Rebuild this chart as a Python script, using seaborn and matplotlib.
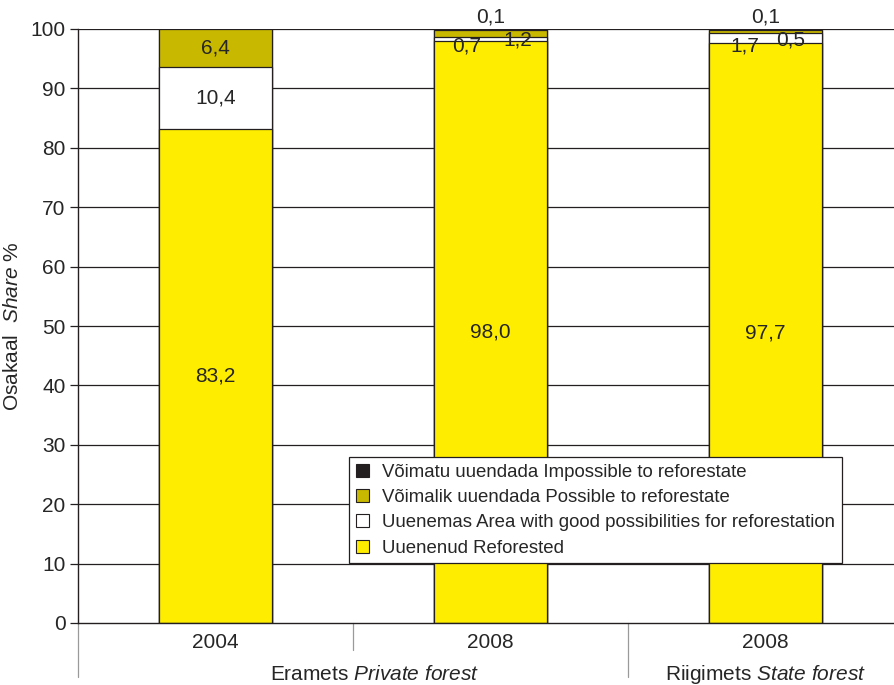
import numpy as np
import pandas as pd
import seaborn as sns
import matplotlib.pyplot as plt
from matplotlib.patches import Patch
from matplotlib.lines import Line2D

# === Data ===
groups = ["2004", "2008", "2008 "]
reforested = [83.2, 98.0, 97.7]
good_possib = [10.4, 0.7, 1.7]
possible = [6.4, 1.2, 0.5]
impossible = [0.0, 0.1, 0.1]

series_names = [
    "Uuenenud Reforested",
    "Uuenemas Area with good possibilities for reforestation",
    "Võimalik uuendada Possible to reforestate",
    "Võimatu uuendada Impossible to reforestate",
]
series_values = [reforested, good_possib, possible, impossible]
colors = ["#FFED00", "#FFFFFF", "#C9B800", "#231F20"]

# === Style ===
sns.set_theme(style="white")
plt.rcParams["font.family"] = ["Liberation Sans", "DejaVu Sans"]
plt.rcParams["mathtext.fontset"] = "custom"
plt.rcParams["mathtext.rm"] = "Liberation Sans"
plt.rcParams["mathtext.it"] = "Liberation Sans:italic"

fig = plt.figure(figsize=(8.95, 6.85), dpi=100)
ax = fig.add_axes([78 / 895, 1 - 623 / 685, 825 / 895, 594 / 685])

# gridlines
for v in range(10, 101, 10):
    ax.axhline(v, color="#231F20", lw=0.9, zorder=0)

# === Stacked bars (cumulative, drawn from top down) ===
cum = np.zeros(len(groups))
cums = []
for vals in series_values:
    cum = cum + np.array(vals)
    cums.append(cum.copy())

for name, c, col in reversed(list(zip(series_names, cums, colors))):
    d = pd.DataFrame({"group": groups, "value": c})
    sns.barplot(data=d, x="group", y="value", color=col, width=0.41,
                edgecolor="#231F20", linewidth=0.9, saturation=1, ax=ax,
                zorder=2)

ax.set_xlim(-0.5, 2.5)
ax.set_ylim(0, 100)
ax.set_yticks(range(0, 101, 10))
ax.tick_params(axis="y", which="both", left=True, length=6, width=0.9,
               color="#231F20", labelsize=15, pad=3)
ax.set_xticks([])
ax.set_xlabel("")
ax.set_ylabel("Osakaal  $\\it{Share}$ %", fontsize=15)
ax.yaxis.set_label_coords(-56 / 825, 0.5)
for s in ["top", "right"]:
    ax.spines[s].set_visible(False)
ax.spines["left"].set_color("#231F20")
ax.spines["left"].set_linewidth(1.0)
ax.spines["bottom"].set_color("#231F20")
ax.spines["bottom"].set_linewidth(1.0)

# === Value labels ===
def fmt(v):
    return f"{v:.1f}".replace(".", ",")

fs = 15
for i in range(3):
    ax.text(i, reforested[i] / 2, fmt(reforested[i]), ha="center", va="center", fontsize=fs)
# 2004: segments large enough for centred labels
ax.text(0, reforested[0] + good_possib[0] / 2, fmt(good_possib[0]), ha="center", va="center", fontsize=fs)
ax.text(0, reforested[0] + good_possib[0] + possible[0] / 2, fmt(possible[0]), ha="center", va="center", fontsize=fs)
# 2008 bars: small segments labelled beside each other
for i, (dl, dr) in zip([1, 2], [(-0.085, 0.1), (-0.075, 0.09)]):
    ax.text(i + dl, 97.2, fmt(good_possib[i]), ha="center", va="center", fontsize=fs)
    ax.text(i + dr, 98.2, fmt(possible[i]), ha="center", va="center", fontsize=fs)
    ax.text(i, 102.0, fmt(impossible[i]), ha="center", va="center", fontsize=fs, clip_on=False)

# === Category axis below ===
trans = ax.get_xaxis_transform()
for i, g in enumerate(groups):
    ax.text(i, -0.033, g.strip(), transform=trans, ha="center", va="center", fontsize=15)
ax.text(0.58, -0.087, "Eramets $\\it{Private\\ forest}$", transform=trans, ha="center",
        va="center", fontsize=15)
ax.text(2.0, -0.087, "Riigimets $\\it{State\\ forest}$", transform=trans, ha="center",
        va="center", fontsize=15)
for xpos, ybot in [(-0.5, -0.091), (0.5, -0.046), (1.5, -0.091)]:
    ax.add_line(Line2D([xpos, xpos], [0, ybot], transform=trans, color="#9A9A9A",
                       lw=0.9, clip_on=False))

# === Legend ===
handles = [Patch(facecolor=col, edgecolor="#231F20", linewidth=0.8, label=n)
           for n, col in zip(series_names, colors)][::-1]
leg = fig.legend(handles=handles, loc="upper left",
                 bbox_to_anchor=(349 / 895, 1 - 457 / 685), fontsize=13.4,
                 frameon=True, fancybox=False, framealpha=1, edgecolor="#231F20",
                 handlelength=0.7, handleheight=0.7, handletextpad=0.75,
                 labelspacing=0.45, borderpad=0.35, borderaxespad=0)
leg.get_frame().set_linewidth(0.9)

fig.savefig("out.png", dpi=100)
